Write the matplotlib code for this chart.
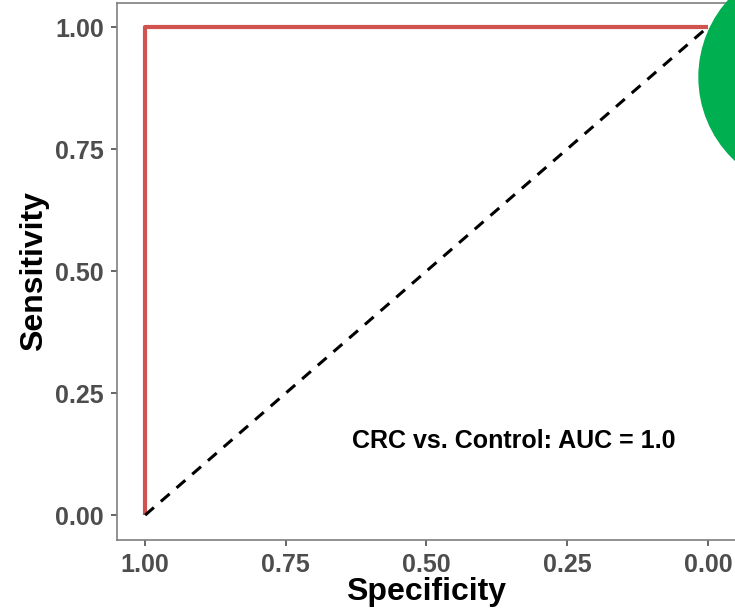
import matplotlib
matplotlib.use('Agg')
import matplotlib.pyplot as plt
from matplotlib.patches import Ellipse

plt.rcParams['font.family'] = ['Liberation Sans', 'DejaVu Sans']

# ROC curve points (x axis is specificity, drawn reversed)
specificity = [1.0, 1.0, 0.0]
sensitivity = [0.0, 1.0, 1.0]
ref_x = [1.0, 0.0]
ref_y = [0.0, 1.0]
ticks = [0.0, 0.25, 0.5, 0.75, 1.0]
tick_labels = ['0.00', '0.25', '0.50', '0.75', '1.00']
auc_label = 'CRC vs. Control: AUC = 1.0'

W, H = 735, 613
fig = plt.figure(figsize=(W / 100, H / 100), dpi=100)
ax = fig.add_axes([117 / W, (H - 539.5) / H, (736 - 117) / W, (539.5 - 2.6) / H])

ax.plot(specificity, sensitivity, color='#D0534F', lw=3.0, solid_capstyle='butt', zorder=3)
ax.plot(ref_x, ref_y, color='black', lw=2.2, ls=(0, (3.8, 3.0)), zorder=4)

ax.set_xlim(1.05, -0.05)
ax.set_ylim(-0.05, 1.05)
ax.set_xticks(ticks)
ax.set_xticklabels(tick_labels)
ax.set_yticks(ticks)
ax.set_yticklabels(tick_labels)

for s in ax.spines.values():
    s.set_color('#7F7F7F')
    s.set_linewidth(1.2)
ax.tick_params(length=4.5, width=1.2, color='#4D4D4D', labelsize=18,
               labelcolor='#4D4D4D', pad=5)
for lab in ax.get_xticklabels() + ax.get_yticklabels():
    lab.set_fontweight('bold')

ax.set_xlabel('Specificity', fontsize=23, fontweight='bold', labelpad=0)
ax.set_ylabel('Sensitivity', fontsize=23, fontweight='bold', labelpad=4)

ax.text(0.345, 0.152, auc_label, fontsize=18, fontweight='bold',
        ha='center', va='center', color='black')

# green dot in the corner
fig.add_artist(Ellipse((813 / W, 1 - 77 / H), 228 / W, 228 / H,
                       color='#00AF50', zorder=10))

fig.savefig('out.png', dpi=100)
